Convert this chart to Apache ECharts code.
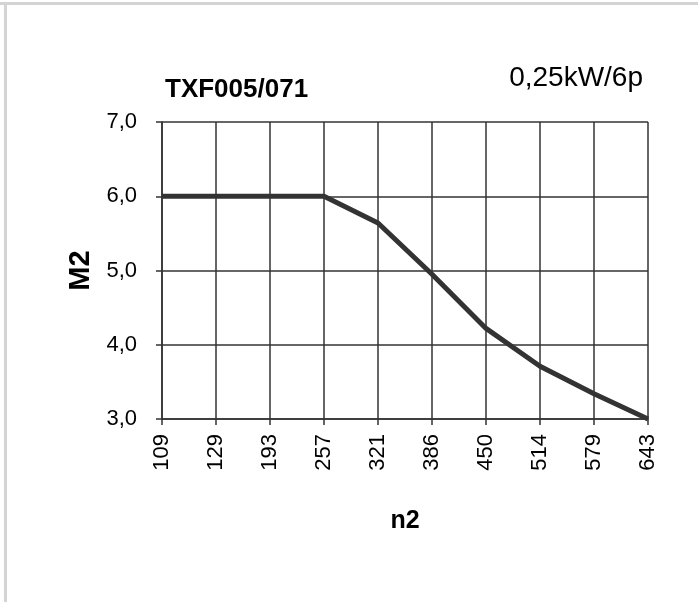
<!DOCTYPE html>
<html>
<head>
<meta charset="utf-8">
<script src="https://cdn.jsdelivr.net/npm/echarts@6/dist/echarts.min.js"></script>
<style>
html,body{margin:0;padding:0;background:#fff;}
#chart{width:698px;height:602px;}
</style>
</head>
<body>
<div id="chart"></div>
<script>
// n2 categories and M2 values
var n2 = ['109', '129', '193', '257', '321', '386', '450', '514', '579', '643'];
var m2 = [6.0, 6.0, 6.0, 6.0, 5.64, 4.95, 4.22, 3.71, 3.34, 3.0];
var yTicks = [3, 4, 5, 6, 7];

var chart = echarts.init(document.getElementById('chart'));
var font = '"Liberation Sans", Arial, sans-serif';
var lineCol = '#333';

var option = {
    backgroundColor: '#fff',
    animation: false,
    textStyle: {fontFamily: font},
    graphic: [
        // light frame at top and left
        {type: 'rect', shape: {x: 0, y: 2, width: 698, height: 3}, style: {fill: '#d4d4d4'}},
        {type: 'rect', shape: {x: 4, y: 2, width: 3, height: 600}, style: {fill: '#d4d4d4'}}
    ],
    title: [
        {
            text: 'TXF005/071', left: 160, top: 72,
            textStyle: {fontFamily: font, fontSize: 26, fontWeight: 'bold', color: '#000'}
        },
        {
            text: '0,25kW/6p', right: 50, top: 59,
            textStyle: {fontFamily: font, fontSize: 28, fontWeight: 'normal', color: '#000'}
        }
    ],
    grid: {left: 162, right: 50, top: 122, bottom: 183},
    xAxis: {
        type: 'category',
        data: n2,
        boundaryGap: false,
        name: 'n2',
        nameLocation: 'middle',
        nameGap: 90,
        nameTextStyle: {fontSize: 25, fontWeight: 'bold', color: '#000'},
        axisLine: {lineStyle: {color: lineCol, width: 1.5}},
        axisTick: {length: 6, lineStyle: {color: lineCol, width: 1.5}},
        axisLabel: {rotate: 90, fontSize: 22, color: '#000', margin: 15},
        splitLine: {show: true, lineStyle: {color: lineCol, width: 1.5}}
    },
    yAxis: {
        type: 'value',
        min: yTicks[0],
        max: yTicks[yTicks.length - 1],
        interval: 1,
        name: 'M2',
        nameLocation: 'middle',
        nameGap: 64,
        nameTextStyle: {fontSize: 29, fontWeight: 'bold', color: '#000'},
        axisLine: {show: true, lineStyle: {color: lineCol, width: 1.5}},
        axisTick: {show: true, length: 6, lineStyle: {color: lineCol, width: 1.5}},
        axisLabel: {
            fontSize: 22, color: '#000', margin: 25,
            formatter: function (v) { return v.toFixed(1).replace('.', ','); }
        },
        splitLine: {show: true, lineStyle: {color: lineCol, width: 1.5}}
    },
    series: [{
        type: 'line',
        data: m2,
        symbol: 'none',
        lineStyle: {color: '#333', width: 5}
    }]
};
chart.setOption(option);
</script>
</body>
</html>
